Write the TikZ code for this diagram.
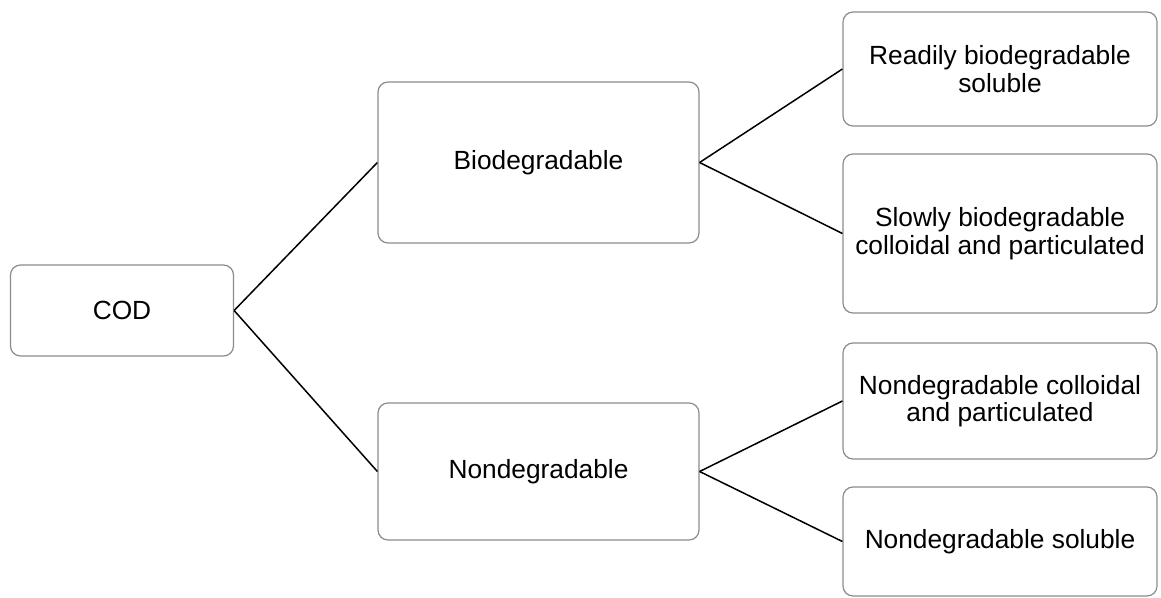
\documentclass[tikz,border=0pt]{standalone}
\usepackage{fontspec}
\setmainfont{Liberation Sans}
\usepackage{tikz}
\usetikzlibrary{positioning}
\definecolor{boxGray}{gray}{0.55}
\definecolor{lineBlack}{gray}{0}

\tikzset{
    box/.style={draw=boxGray, line width=1.2pt, rounded corners=10pt, fill=white,
        align=center, inner sep=0pt, font=\fontsize{26.3}{27.5}\selectfont},
    link/.style={lineBlack, line width=1.5pt}
}

\begin{document}
\begin{tikzpicture}[x=1pt, y=-1pt]
    \useasboundingbox (0,0) rectangle (1161,597);

    % Root
    \node[box, minimum width=223pt, minimum height=91pt] (cod) at (122,310.5) {COD};

    % Middle level
    \node[box, minimum width=321pt, minimum height=161pt] (bio) at (538.5,162.5) {Biodegradable};
    \node[box, minimum width=321pt, minimum height=137pt] (nondeg) at (538.5,471.5) {Nondegradable};

    % Right level
    \node[box, minimum width=314pt, minimum height=114pt] (rbs) at (1000,69) {Readily biodegradable\\soluble};
    \node[box, minimum width=314pt, minimum height=159pt] (sbcp) at (1000,233.5) {Slowly biodegradable\\colloidal and particulated};
    \node[box, minimum width=314pt, minimum height=116pt] (ncp) at (1000,401) {Nondegradable colloidal\\and particulated};
    \node[box, minimum width=314pt, minimum height=109pt] (ns) at (1000,541.5) {Nondegradable soluble};

    % Connectors
    \draw[link] (cod.east) -- (bio.west);
    \draw[link] (cod.east) -- (nondeg.west);
    \draw[link] (bio.east) -- (rbs.west);
    \draw[link] (bio.east) -- (sbcp.west);
    \draw[link] (nondeg.east) -- (ncp.west);
    \draw[link] (nondeg.east) -- (ns.west);
\end{tikzpicture}
\end{document}
